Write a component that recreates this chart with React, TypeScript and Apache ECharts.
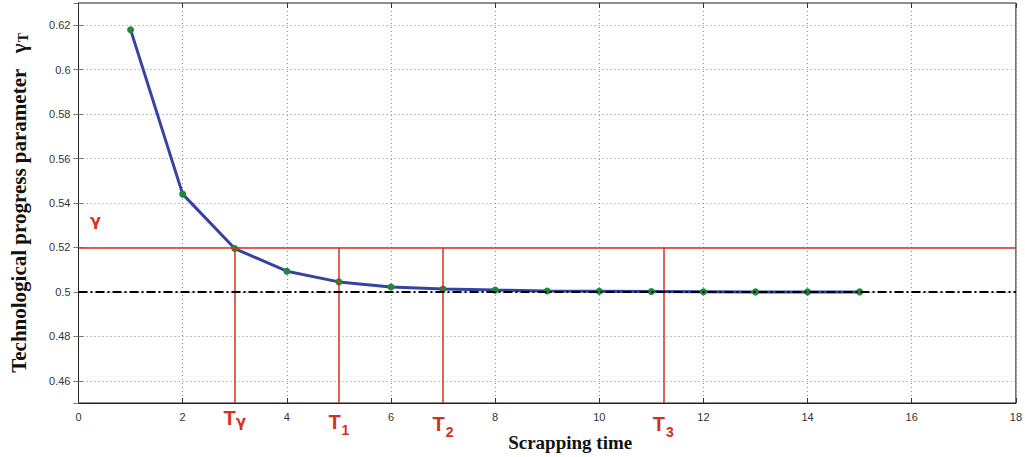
import React, { useEffect, useRef } from "react";
import * as echarts from "echarts";

const scrapTimes = [1, 2, 3, 4, 5, 6, 7, 8, 9, 10, 11, 12, 13, 14, 15];
const gammaT = [0.618, 0.544, 0.5195, 0.5093, 0.5045, 0.5022, 0.5013, 0.5008, 0.5004, 0.5003, 0.5002, 0.5001, 0.5, 0.5, 0.5];
const gammaLevel = 0.52;
const asymptote = 0.5;
const markTimes = [3, 5, 7, 11.23];
const markNames = ["{t|T}{sg|γ}", "{t|T}{s|1}", "{t|T}{s|2}", "{t|T}{s|3}"];
const markOffsets = [0, 0, 2, 2];

const RED = "#d3301f";

export default function App() {
  const ref = useRef<HTMLDivElement>(null);
  useEffect(() => {
    document.body.style.margin = "0";
    const chart = echarts.init(ref.current!, null, { renderer: "svg" });
    const redLine = { color: RED, width: 1.5, type: "solid" };
    const vLines = markTimes.map((t, i) => [
      { coord: [t, gammaLevel], lineStyle: redLine },
      {
        coord: [t, 0.45],
        label: {
          show: true,
          position: "end",
          distance: 4 + markOffsets[i],
          formatter: markNames[i],
          rich: {
            t: { fontFamily: "Liberation Sans", fontWeight: "bold", fontSize: 20, color: RED },
            s: { fontFamily: "Liberation Sans", fontWeight: "bold", fontSize: 14, color: RED, padding: [16, 0, 0, 1] },
            sg: { fontFamily: "DejaVu Sans", fontWeight: "bold", fontSize: 15, color: RED, padding: [7, 0, 0, 0] },
          },
        },
      },
    ]);
    const hiddenAxisBase = {
      type: "value",
      axisLabel: { show: false },
      splitLine: { show: false },
      axisLine: { show: false },
    };
    chart.setOption({
      animation: false,
      backgroundColor: "#fff",
      grid: { left: 77, right: 7, top: 3, bottom: 53, show: true, borderColor: "#222", borderWidth: 1 },
      xAxis: [
        {
          type: "value",
          min: 0,
          max: 18,
          interval: 2,
          name: "Scrapping time",
          nameLocation: "middle",
          nameGap: 30,
          nameTextStyle: { fontFamily: "Liberation Serif", fontWeight: "bold", fontSize: 19, color: "#111", padding: [0, 0, 0, 46] },
          axisLine: { onZero: false, lineStyle: { color: "#222", width: 1 } },
          axisTick: { inside: true, length: 5, lineStyle: { color: "#333" } },
          axisLabel: { fontFamily: "Liberation Sans", fontSize: 11, color: "#333", margin: 8 },
          splitLine: { show: true, lineStyle: { color: "#888", type: [1, 3], width: 1 } },
        },
        {
          ...hiddenAxisBase,
          position: "top",
          min: 0,
          max: 18,
          interval: 2,
          axisTick: { show: true, inside: true, length: 5, lineStyle: { color: "#333" } },
        },
      ],
      yAxis: [
        {
          type: "value",
          min: 0.45,
          max: 0.63,
          minInterval: 0.02,
          maxInterval: 0.02,
          name: "Technological progress parameter   {g|γ}{s|T}",
          nameLocation: "middle",
          nameRotate: 90,
          nameGap: 48,
          nameTextStyle: {
            fontFamily: "Liberation Serif",
            fontWeight: "bold",
            fontSize: 21,
            color: "#111",
            rich: {
              g: { fontFamily: "Liberation Serif", fontWeight: "bold", fontSize: 21, color: "#111" },
              s: { fontFamily: "Liberation Serif", fontWeight: "bold", fontSize: 14, color: "#111", padding: [10, 0, 0, 1] },
            },
          },
          axisLine: { lineStyle: { color: "#222", width: 1 } },
          axisTick: { inside: true, length: 5, lineStyle: { color: "#777" } },
          axisLabel: { fontFamily: "Liberation Sans", fontSize: 11, color: "#333", margin: 8, showMinLabel: false, showMaxLabel: false },
          splitLine: { show: true, lineStyle: { color: "#888", type: [1, 3], width: 1 } },
        },
        {
          ...hiddenAxisBase,
          position: "right",
          min: 0.45,
          max: 0.63,
          minInterval: 0.02,
          maxInterval: 0.02,
          axisTick: { show: true, inside: true, length: 5, lineStyle: { color: "#777" } },
        },
      ],
      series: [
        {
          type: "line",
          data: scrapTimes.map((t, i) => [t, gammaT[i]]),
          lineStyle: { color: "#3544a0", width: 3 },
          itemStyle: { color: "#1e8a35", borderWidth: 0 },
          symbol: "circle",
          symbolSize: 7,
          z: 3,
          markLine: {
            silent: true,
            symbol: "none",
            animation: false,
            data: [
              [
                { coord: [0, gammaLevel], lineStyle: redLine },
                { coord: [18, gammaLevel] },
              ],
              ...vLines,
              [
                { coord: [0, asymptote], lineStyle: { color: "#000", width: 2, type: [9, 3, 2, 3] } },
                { coord: [18, asymptote] },
              ],
            ],
            label: { show: false },
          },
        },
      ],
      graphic: [
        {
          type: "text",
          left: 90,
          top: 212,
          style: { text: "γ", fill: RED, fontFamily: "DejaVu Sans", fontWeight: "bold", fontSize: 16 },
        },
      ],
    });
    return () => chart.dispose();
  }, []);
  return <div ref={ref} style={{ position: "absolute", left: 0, top: 0, width: 1025, height: 457 }} />;
}
